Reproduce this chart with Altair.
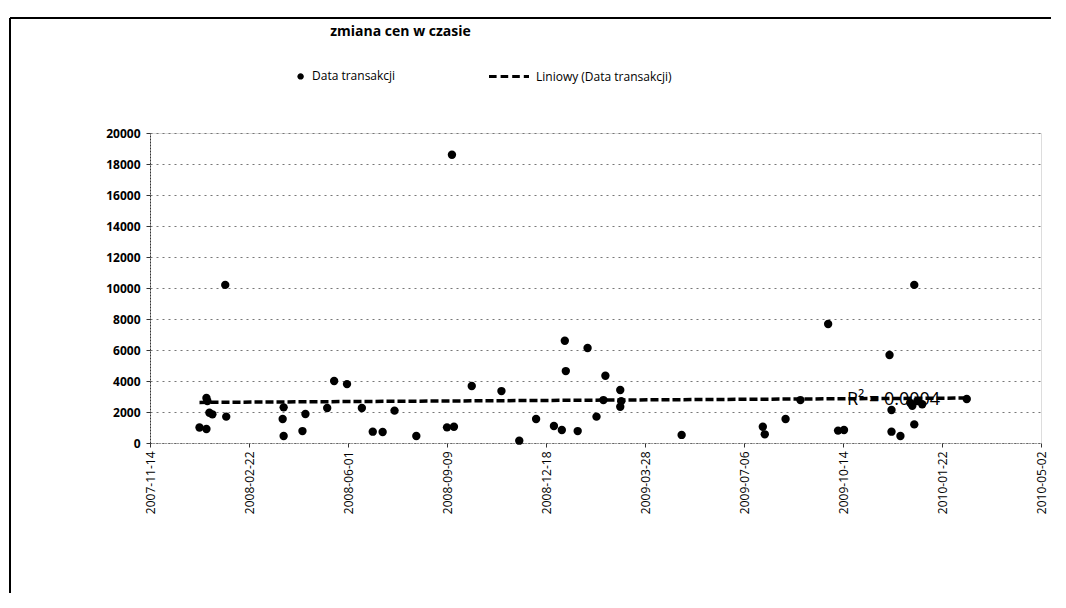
import altair as alt
import pandas as pd
from datetime import datetime, timezone

dates = [
    "2008-01-03", "2008-01-10", "2008-01-10", "2008-01-11", "2008-01-13", "2008-01-16",
    "2008-01-30", "2008-01-29", "2008-03-27", "2008-03-28", "2008-03-28", "2008-04-16",
    "2008-04-19", "2008-05-11", "2008-05-18", "2008-05-31", "2008-06-15", "2008-06-26",
    "2008-07-06", "2008-07-18", "2008-08-09", "2008-09-09", "2008-09-16", "2008-09-14",
    "2008-10-04", "2008-11-03", "2008-11-21", "2008-12-08", "2008-12-26", "2009-01-03",
    "2009-01-06", "2009-01-07", "2009-01-19", "2009-01-29", "2009-02-07", "2009-02-14",
    "2009-02-16", "2009-03-03", "2009-03-03", "2009-03-04", "2009-05-04", "2009-07-25",
    "2009-07-27", "2009-08-17", "2009-09-01", "2009-09-29", "2009-10-09", "2009-10-15",
    "2009-11-30", "2009-12-02", "2009-12-02", "2009-12-11", "2009-12-21", "2009-12-25",
    "2009-12-25", "2009-12-23", "2009-12-28", "2010-01-02", "2010-02-16",
]
prices = [
    1000, 900, 2900, 2700, 1950, 1850,
    1700, 10200, 1550, 450, 2300, 770,
    1870, 2260, 4000, 3800, 2260, 730,
    710, 2090, 450, 1010, 1050, 18600,
    3680, 3350, 150, 1550, 1100, 840,
    6600, 4640, 770, 6130, 1700, 2770,
    4340, 3420, 2340, 2700, 520, 1050,
    560, 1550, 2770, 7680, 800, 840,
    5680, 730, 2130, 450, 2580, 1200,
    10200, 2400, 2700, 2500, 2840,
]
tick_dates = ["2007-11-14", "2008-02-22", "2008-06-01", "2008-09-09", "2008-12-18",
              "2009-03-28", "2009-07-06", "2009-10-14", "2010-01-22", "2010-05-02"]
y_ticks = [0, 2000, 4000, 6000, 8000, 10000, 12000, 14000, 16000, 18000, 20000]
series_names = ["Data transakcji", "Liniowy (Data transakcji)"]
title_text = "zmiana cen w czasie"
r2_text = "R² = 0.0004"

def ms(d):
    return int(datetime.strptime(d, "%Y-%m-%d").replace(tzinfo=timezone.utc).timestamp() * 1000)

tick_ms = [ms(d) for d in tick_dates]

df = pd.DataFrame({"date": dates, "price": prices, "series": series_names[0]})

FONT = "Open Sans"

x_enc = alt.X("date:T",
              scale=alt.Scale(type="utc", domain=[tick_ms[0], tick_ms[-1]], nice=False),
              axis=alt.Axis(values=tick_ms, tickCount=30, format="%Y-%m-%d", labelAngle=270,
                            title=None, grid=False, domainColor="#555", domainDash=[1, 2],
                            tickColor="#333", tickSize=4, labelFontSize=12, labelColor="#000",
                            labelFont=FONT, labelPadding=4, labelOverlap=False))
y_enc = alt.Y("price:Q",
              scale=alt.Scale(domain=[0, 20000], nice=False),
              axis=alt.Axis(values=y_ticks, tickCount=30, format="d", title=None, grid=True,
                            gridColor="#777", gridDash=[2, 4], gridWidth=1, domainColor="#333",
                            domainDash=[2, 1], tickColor="#333", tickSize=4,
                            labelFontSize=12, labelColor="#000", labelFont=FONT,
                            labelPadding=6, labelFontWeight="bold", labelOverlap=False))

dot_path = "M0.78,-0.16 A0.16,0.16 0 1,1 0.78,0.16 A0.16,0.16 0 1,1 0.78,-0.16 Z"
dash_path = ("M-1,-0.07 L-0.62,-0.07 L-0.62,0.07 L-1,0.07 Z "
             "M-0.42,-0.07 L-0.04,-0.07 L-0.04,0.07 L-0.42,0.07 Z "
             "M0.16,-0.07 L0.54,-0.07 L0.54,0.07 L0.16,0.07 Z "
             "M0.74,-0.07 L1,-0.07 L1,0.07 L0.74,0.07 Z")

points = alt.Chart(df).mark_circle(color="black", size=70, opacity=1).encode(
    x=x_enc, y=y_enc)

legend_layer = alt.Chart(df).transform_filter("false").mark_point(
    filled=True, color="black", opacity=1
).encode(
    x=x_enc, y=y_enc,
    shape=alt.Shape("series:N",
                    scale=alt.Scale(domain=series_names, range=[dot_path, dash_path]),
                    legend=alt.Legend(title=None, orient="none", direction="horizontal",
                                      legendX=114, legendY=-78, symbolSize=1600,
                                      symbolFillColor="black", symbolOpacity=1,
                                      labelFontSize=12, labelFont=FONT,
                                      labelColor="#000", columnPadding=90, labelOffset=6)),
)

trend = alt.Chart(df).transform_regression("date", "price", method="linear").mark_line(
    color="black", strokeWidth=3.5, strokeDash=[8, 3]
).encode(x=x_enc, y=y_enc)

r2 = alt.Chart(pd.DataFrame({"date": ["2009-10-18"], "price": [2600], "t": [r2_text]})).mark_text(
    align="left", baseline="middle", fontSize=18, font=FONT, color="#000", dy=-3
).encode(x=x_enc, y=y_enc, text="t:N")

border_left = alt.Chart(df).mark_rule(color="black", strokeWidth=1.5).encode(
    x=alt.value(-140), y=alt.value(-115), y2=alt.value(480))
border_top = alt.Chart(df).mark_rule(color="black", strokeWidth=1.5).encode(
    x=alt.value(-140), x2=alt.value(915), y=alt.value(-115))

chart = alt.layer(points, legend_layer, trend, r2, border_left, border_top).properties(
    width=891, height=310,
    autosize=alt.AutoSizeParams(type="none"),
    padding={"left": 142, "top": 125, "right": 10, "bottom": 150},
    title=alt.TitleParams(title_text, anchor="middle", frame="group", dx=-195, offset=0, dy=22,
                          fontSize=14, fontWeight="bold", font=FONT, color="#000"),
).configure_view(stroke=None).configure(background="white")

chart.save("out.html", embed_options={"renderer": "svg", "actions": False})
